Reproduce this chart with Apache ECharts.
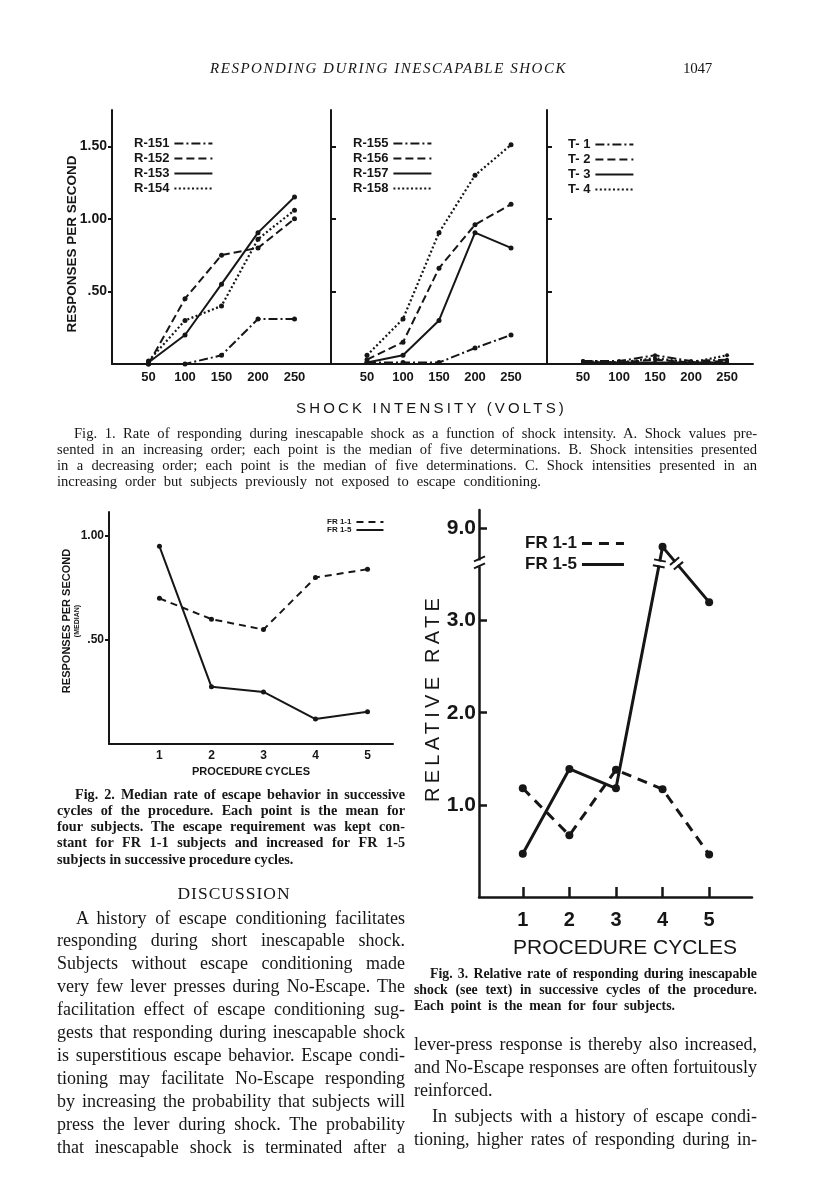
<!DOCTYPE html>
<html><head><meta charset="utf-8">
<script src="https://cdn.jsdelivr.net/npm/echarts@6/dist/echarts.min.js"></script>
<style>
html,body{margin:0;padding:0;background:#fff;}
#page{position:relative;width:816px;height:1200px;overflow:hidden;background:#fff;}
#chart{position:absolute;left:0;top:0;width:816px;height:1200px;}
.t{position:absolute;white-space:nowrap;color:#161616;font-family:'Liberation Serif','DejaVu Serif',serif;}
</style></head>
<body><div id="page"><div id="chart"></div></div>
<script>
// ---------------- DATA ----------------
// Fig. 1 (responses per second vs shock intensity, volts)
const shockVolts = [50, 100, 150, 200, 250];
const R151 = [0.00, 0.00, 0.06, 0.31, 0.31];
const R152 = [0.00, 0.45, 0.75, 0.80, 1.00];
const R153 = [0.01, 0.20, 0.55, 0.905, 1.15];
const R154 = [0.02, 0.30, 0.40, 0.86, 1.06];
const R155 = [0.01, 0.01, 0.01, 0.11, 0.20];
const R156 = [0.03, 0.15, 0.66, 0.96, 1.10];
const R157 = [0.01, 0.06, 0.30, 0.905, 0.80];
const R158 = [0.06, 0.31, 0.905, 1.30, 1.51];
const T1 = [0.02, 0.02, 0.06, 0.02, 0.03];
const T2 = [0.01, 0.01, 0.03, 0.01, 0.02];
const T3 = [0.01, 0.01, 0.01, 0.01, 0.01];
const T4 = [0.02, 0.01, 0.04, 0.01, 0.06];
const fig1YTicks = [0.5, 1.0, 1.5];
const fig1YLabels = ['.50', '1.00', '1.50'];

// Fig. 2 (median responses per second vs procedure cycle)
const cycles = [1, 2, 3, 4, 5];
const fig2FR11 = [0.70, 0.60, 0.55, 0.80, 0.84];
const fig2FR15 = [0.95, 0.275, 0.25, 0.12, 0.155];
const fig2YTicks = [0.5, 1.0];
const fig2YLabels = ['.50', '1.00'];

// Fig. 3 (relative rate vs procedure cycle; axis broken between 3 and 9)
const fig3FR11 = [1.18, 0.67, 1.38, 1.17, 0.46];
const fig3FR15 = [0.47, 1.39, 1.18, 8.8, 3.2];
const fig3YTicks = [1, 2, 3, 9];
const fig3YLabels = ['1.0', '2.0', '3.0', '9.0'];

// ---------------- CHART ----------------
const INK = '#161616';
const SANS = "'Liberation Sans','DejaVu Sans',sans-serif";
const BREAK_REAL = 8, BREAK_SHIFT = 5, BREAK_DISP = 3.62;
const toDisp = v => (v > BREAK_REAL ? v - BREAK_SHIFT : v);
const dashDot = [9, 3, 2, 3], dashed = [8, 4], dotted = [2, 2.4];

function lbl(ticks, labels) {
  return v => { const i = ticks.findIndex(t => Math.abs(t - v) < 1e-6); return i >= 0 ? labels[i] : ''; };
}
function line(name, idx, xs, ys, dash, width, sym) {
  return {
    type: 'line', name, xAxisIndex: idx, yAxisIndex: idx,
    data: xs.map((x, i) => [x, ys[i]]),
    symbol: 'circle', symbolSize: sym, showSymbol: true,
    itemStyle: { color: INK }, lineStyle: { color: INK, width, type: dash },
    silent: true, animation: false, z: 3
  };
}
const legendBase = {
  orient: 'vertical', align: 'right', selectedMode: false, padding: 0,
  itemStyle: { opacity: 0 }, lineStyle: { width: 'inherit' },
  inactiveColor: INK
};
function legendText(size, width) { return { fontFamily: SANS, fontWeight: 'bold', fontSize: size, color: INK, width }; }
const baseGrid = { outerBoundsMode: 'none', containLabel: false };
const axisLineStyle = w => ({ show: true, onZero: false, lineStyle: { color: INK, width: w } });

const grids = [
  Object.assign({ left: 112, top: 110, width: 219, height: 254 }, baseGrid),
  Object.assign({ left: 331, top: 110, width: 216, height: 254 }, baseGrid),
  Object.assign({ left: 547, top: 110, width: 206, height: 254 }, baseGrid),
  Object.assign({ left: 109, top: 512, width: 284, height: 232 }, baseGrid),
  Object.assign({ left: 479, top: 510, width: 273, height: 387 }, baseGrid)
];

function fig1X(idx, max) {
  return {
    gridIndex: idx, type: 'value', min: 0, max,
    axisLine: axisLineStyle(2), axisTick: { show: false }, splitLine: { show: false },
    axisLabel: { customValues: shockVolts, fontFamily: SANS, fontWeight: 'bold', fontSize: 13, color: INK, margin: 7 }
  };
}
function fig1Y(idx, withLabels) {
  const y = {
    gridIndex: idx, type: 'value', min: 0, max: 1.75,
    axisLine: axisLineStyle(2), splitLine: { show: false },
    axisTick: { show: true, customValues: fig1YTicks, inside: !withLabels, length: withLabels ? 4 : 5, lineStyle: { color: INK, width: 2 } },
    axisLabel: { show: withLabels, customValues: fig1YTicks, formatter: lbl(fig1YTicks, fig1YLabels), fontFamily: SANS, fontWeight: 'bold', fontSize: 14, color: INK, margin: 5 }
  };
  if (withLabels) {
    Object.assign(y, {
      name: 'RESPONSES PER SECOND', nameLocation: 'middle', nameRotate: 90, nameGap: 33, nameMoveOverlap: false,
      nameTextStyle: { fontFamily: SANS, fontWeight: 'bold', fontSize: 13.5, color: INK, padding: [0, 14, 0, 0] }
    });
  }
  return y;
}

const option = {
  backgroundColor: 'transparent',
  animation: false,
  grid: grids,
  xAxis: [
    fig1X(0, 300), fig1X(1, 300), fig1X(2, 286),
    {
      gridIndex: 3, type: 'value', min: 0.03, max: 5.49,
      axisLine: axisLineStyle(2), axisTick: { show: false }, splitLine: { show: false },
      axisLabel: { customValues: cycles, fontFamily: SANS, fontWeight: 'bold', fontSize: 12, color: INK, margin: 6 },
      name: 'PROCEDURE CYCLES', nameLocation: 'middle', nameGap: 22, nameMoveOverlap: false,
      nameTextStyle: { fontFamily: SANS, fontWeight: 'bold', fontSize: 11, color: INK, padding: [0, 0, 0, 0] }
    },
    {
      gridIndex: 4, type: 'value', min: 0.06, max: 5.92,
      axisLine: axisLineStyle(2.5), splitLine: { show: false },
      axisTick: { show: true, customValues: cycles, inside: true, length: 10, lineStyle: { color: INK, width: 2.5 } },
      axisLabel: { customValues: cycles, fontFamily: SANS, fontWeight: 'bold', fontSize: 20, color: INK, margin: 13 },
      name: 'PROCEDURE CYCLES', nameLocation: 'middle', nameGap: 41, nameMoveOverlap: false,
      nameTextStyle: { fontFamily: SANS, fontSize: 21, color: INK, padding: [0, 0, 0, 19] }
    }
  ],
  yAxis: [
    fig1Y(0, true), fig1Y(1, false), fig1Y(2, false),
    {
      gridIndex: 3, type: 'value', min: 0, max: 1.115,
      axisLine: axisLineStyle(2), splitLine: { show: false },
      axisTick: { show: true, customValues: fig2YTicks, length: 4, lineStyle: { color: INK, width: 2 } },
      axisLabel: { customValues: fig2YTicks, formatter: lbl(fig2YTicks, fig2YLabels), fontFamily: SANS, fontWeight: 'bold', fontSize: 12, color: INK, margin: 5 },
      name: '{a|RESPONSES PER SECOND}\n{b|(MEDIAN)}', nameLocation: 'middle', nameRotate: 90, nameGap: 27, nameMoveOverlap: false,
      nameTextStyle: {
        color: INK, padding: [0, 0, 0, 14],
        rich: { a: { fontFamily: SANS, fontWeight: 'bold', fontSize: 11, lineHeight: 12, color: INK }, b: { fontFamily: SANS, fontWeight: 'bold', fontSize: 7, lineHeight: 9, color: INK } }
      }
    },
    {
      gridIndex: 4, type: 'value', min: 0, max: 4.2,
      axisLine: axisLineStyle(2.5), splitLine: { show: false },
      axisTick: { show: true, customValues: fig3YTicks.map(toDisp), inside: true, length: 8, lineStyle: { color: INK, width: 2.5 } },
      axisLabel: { customValues: fig3YTicks.map(toDisp), formatter: lbl(fig3YTicks.map(toDisp), fig3YLabels), fontFamily: SANS, fontWeight: 'bold', fontSize: 21, color: INK, margin: 3 }
    }
  ],
  legend: [
    Object.assign({ left: 134, top: 137, itemWidth: 38, itemHeight: 11, itemGap: 2, data: ['R-151', 'R-152', 'R-153', 'R-154'], textStyle: legendText(13, 40) }, legendBase),
    Object.assign({ left: 353, top: 137, itemWidth: 38, itemHeight: 11, itemGap: 2, data: ['R-155', 'R-156', 'R-157', 'R-158'], textStyle: legendText(13, 44) }, legendBase),
    Object.assign({ left: 568, top: 138, itemWidth: 38, itemHeight: 11, itemGap: 2, data: ['T- 1', 'T- 2', 'T- 3', 'T- 4'], textStyle: legendText(13, 31) }, legendBase),
    Object.assign({ left: 327, top: 518, itemWidth: 27, itemHeight: 8, itemGap: 0, data: ['FR 1-1 (Fig. 2)', 'FR 1-5 (Fig. 2)'], textStyle: legendText(8, 25), formatter: n => n.replace(/ \(.*\)$/, '') }, legendBase),
    Object.assign({ left: 525, top: 535, itemWidth: 42, itemHeight: 16, itemGap: 4, data: ['FR 1-1 (Fig. 3)', 'FR 1-5 (Fig. 3)'], textStyle: legendText(17, 58), formatter: n => n.replace(/ \(.*\)$/, '') }, legendBase)
  ],
  series: [
    line('R-151', 0, shockVolts, R151, dashDot, 2, 5),
    line('R-152', 0, shockVolts, R152, dashed, 2, 5),
    line('R-153', 0, shockVolts, R153, 'solid', 2, 5),
    line('R-154', 0, shockVolts, R154, dotted, 2.2, 5),
    line('R-155', 1, shockVolts, R155, dashDot, 2, 5),
    line('R-156', 1, shockVolts, R156, dashed, 2, 5),
    line('R-157', 1, shockVolts, R157, 'solid', 2, 5),
    line('R-158', 1, shockVolts, R158, dotted, 2.2, 5),
    line('T- 1', 2, shockVolts, T1, dashDot, 2, 4),
    line('T- 2', 2, shockVolts, T2, dashed, 2, 4),
    line('T- 3', 2, shockVolts, T3, 'solid', 2, 4),
    line('T- 4', 2, shockVolts, T4, dotted, 2.2, 4),
    line('FR 1-1 (Fig. 2)', 3, cycles, fig2FR11, [7, 5], 2, 5),
    line('FR 1-5 (Fig. 2)', 3, cycles, fig2FR15, 'solid', 2, 5),
    line('FR 1-1 (Fig. 3)', 4, cycles, fig3FR11.map(toDisp), [10, 7], 3, 8),
    line('FR 1-5 (Fig. 3)', 4, cycles, fig3FR15.map(toDisp), 'solid', 3, 8)
  ]
};

const chart = echarts.init(document.getElementById('chart'), null, { renderer: 'canvas', width: 816, height: 1200 });
chart.setOption(option);

// axis-break marks for Fig. 3, placed through the chart's own coordinate system
(function addBreaks() {
  const g = [];
  const p = chart.convertToPixel({ gridIndex: 4 }, [0.06, BREAK_DISP]);
  const ax = p[0], ay = p[1];
  g.push({ type: 'rect', shape: { x: ax - 3, y: ay - 3, width: 6, height: 6 }, style: { fill: '#fff' }, z: 50, silent: true });
  g.push({ type: 'line', shape: { x1: ax - 5, y1: ay - 2, x2: ax + 6, y2: ay - 7 }, style: { stroke: INK, lineWidth: 2 }, z: 51, silent: true });
  g.push({ type: 'line', shape: { x1: ax - 5, y1: ay + 5, x2: ax + 6, y2: ay }, style: { stroke: INK, lineWidth: 2 }, z: 51, silent: true });
  [fig3FR11, fig3FR15].forEach(vals => {
    const d = vals.map(toDisp);
    for (let i = 0; i < d.length - 1; i++) {
      if ((d[i] - BREAK_DISP) * (d[i + 1] - BREAK_DISP) < 0) {
        const a = chart.convertToPixel({ gridIndex: 4 }, [cycles[i], d[i]]);
        const b = chart.convertToPixel({ gridIndex: 4 }, [cycles[i + 1], d[i + 1]]);
        const t = (BREAK_DISP - d[i]) / (d[i + 1] - d[i]);
        const cx = a[0] + (b[0] - a[0]) * t, cy = a[1] + (b[1] - a[1]) * t;
        const len = Math.hypot(b[0] - a[0], b[1] - a[1]);
        const ux = (b[0] - a[0]) / len, uy = (b[1] - a[1]) / len;
        const nx = -uy, ny = ux;
        g.push({ type: 'line', shape: { x1: cx - ux * 2, y1: cy - uy * 2, x2: cx + ux * 2, y2: cy + uy * 2 }, style: { stroke: '#fff', lineWidth: 5 }, z: 50, silent: true });
        [-3, 3].forEach(s => {
          const mx = cx + ux * s, my = cy + uy * s;
          g.push({ type: 'line', shape: { x1: mx - nx * 6, y1: my - ny * 6, x2: mx + nx * 6, y2: my + ny * 6 }, style: { stroke: INK, lineWidth: 2 }, z: 51, silent: true });
        });
      }
    }
  });
  chart.setOption({ graphic: g });
})();

// ---------------- PAGE TEXT ----------------
const page = document.getElementById('page');
function put(str, o) {
  const d = document.createElement('div');
  d.className = 't'; d.textContent = str;
  d.style.fontSize = o.size + 'px'; d.style.lineHeight = o.size + 'px';
  if (o.family) d.style.fontFamily = o.family;
  if (o.weight) d.style.fontWeight = o.weight;
  if (o.italic) d.style.fontStyle = 'italic';
  if (o.ls) d.style.letterSpacing = o.ls + 'px';
  page.appendChild(d);
  let w = d.getBoundingClientRect().width;
  if (o.w) {
    const diff = o.w - w;
    if (o.mode === 'letter') {
      const n = [...str].length;
      d.style.letterSpacing = ((o.ls || 0) + diff / n) + 'px';
    } else {
      const n = (str.match(/ /g) || []).length;
      if (n) d.style.wordSpacing = (diff / n) + 'px';
    }
    w = d.getBoundingClientRect().width;
  }
  if (o.rotate) {
    const h = d.getBoundingClientRect().height;
    d.style.left = (o.x - w / 2) + 'px'; d.style.top = (o.y - h / 2) + 'px';
    d.style.transformOrigin = '50% 50%'; d.style.transform = 'rotate(-90deg)';
    return d;
  }
  d.style.left = (o.align === 'center' ? o.x - w / 2 : o.x) + 'px';
  d.style.top = (o.y - o.size * 0.58) + 'px';
  return d;
}

// running head
put('RESPONDING DURING INESCAPABLE SHOCK', { x: 210, y: 70, size: 15, italic: true, w: 357, mode: 'letter' });
put('1047', { x: 683, y: 70, size: 15, w: 29, mode: 'letter' });

// Fig. 1 axis title + caption
put('SHOCK INTENSITY (VOLTS)', { x: 296, y: 409, size: 15, family: SANS, w: 271, mode: 'letter' });
const cap1 = [
  ['Fig. 1. Rate of responding during inescapable shock as a function of shock intensity. A. Shock values pre-', 74, 757],
  ['sented in an increasing order; each point is the median of five determinations. B. Shock intensities presented', 57, 757],
  ['in a decreasing order; each point is the median of five determinations. C. Shock intensities presented in an', 57, 757],
  ['increasing order but subjects previously not exposed to escape conditioning.', 57, 541]
];
cap1.forEach((l, i) => put(l[0], { x: l[1], y: 434 + i * 16, size: 14.6, w: l[2] - l[1] }));

// Fig. 3 y-axis title
put('RELATIVE RATE', { x: 432, y: 698, size: 20, family: SANS, w: 208, mode: 'letter', rotate: true });

// Fig. 2 caption
const cap2 = [
  ['Fig. 2. Median rate of escape behavior in successive', 75, 405],
  ['cycles of the procedure. Each point is the mean for', 57, 405],
  ['four subjects. The escape requirement was kept con-', 57, 405],
  ['stant for FR 1-1 subjects and increased for FR 1-5', 57, 405],
  ['subjects in successive procedure cycles.', 57, 0]
];
cap2.forEach((l, i) => put(l[0], { x: l[1], y: 795 + i * 16.2, size: 14.2, weight: 'bold', w: l[2] ? l[2] - l[1] : 0 }));

// Discussion
put('DISCUSSION', { x: 234, y: 895, size: 17.5, ls: 1, align: 'center' });
const para1 = [
  ['A history of escape conditioning facilitates', 76, 405],
  ['responding during short inescapable shock.', 57, 405],
  ['Subjects without escape conditioning made', 57, 405],
  ['very few lever presses during No-Escape. The', 57, 405],
  ['facilitation effect of escape conditioning sug-', 57, 405],
  ['gests that responding during inescapable shock', 57, 405],
  ['is superstitious escape behavior. Escape condi-', 57, 405],
  ['tioning may facilitate No-Escape responding', 57, 405],
  ['by increasing the probability that subjects will', 57, 405],
  ['press the lever during shock. The probability', 57, 405],
  ['that inescapable shock is terminated after a', 57, 405]
];
para1.forEach((l, i) => put(l[0], { x: l[1], y: 919 + i * 22.9, size: 18, w: l[2] - l[1] }));

// Fig. 3 caption
const cap3 = [
  ['Fig. 3. Relative rate of responding during inescapable', 430, 757],
  ['shock (see text) in successive cycles of the procedure.', 414, 757],
  ['Each point is the mean for four subjects.', 414, 675]
];
cap3.forEach((l, i) => put(l[0], { x: l[1], y: 975 + i * 16, size: 13.8, weight: 'bold', w: l[2] - l[1] }));

const para2 = [
  ['lever-press response is thereby also increased,', 414, 757, 1045],
  ['and No-Escape responses are often fortuitously', 414, 757, 1068],
  ['reinforced.', 414, 0, 1091],
  ['In subjects with a history of escape condi-', 432, 757, 1117],
  ['tioning, higher rates of responding during in-', 414, 757, 1140]
];
para2.forEach(l => put(l[0], { x: l[1], y: l[3], size: 18, w: l[2] ? l[2] - l[1] : 0 }));
</script>
</body></html>
